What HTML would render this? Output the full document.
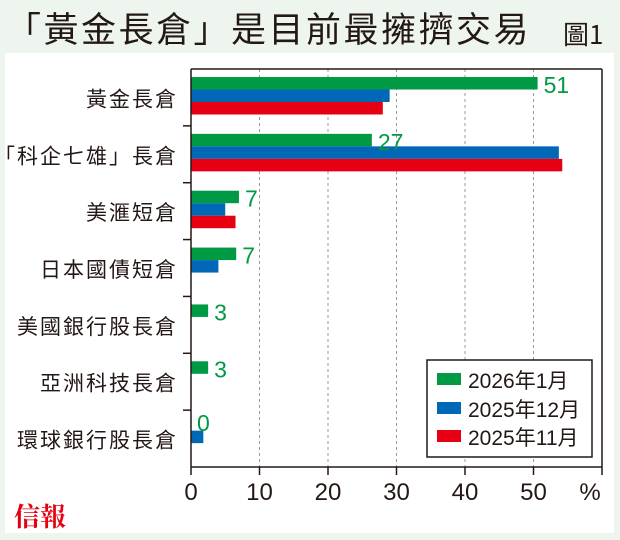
<!DOCTYPE html>
<html><head><meta charset="utf-8"><style>
body{margin:0;width:620px;height:540px;background:#eef5ee;overflow:hidden;font-family:"Liberation Sans","Noto Sans CJK TC",sans-serif;}
svg{display:block}
</style></head><body>
<svg width="620" height="540">
<rect x="0" y="0" width="620" height="540" fill="#eef5ee"/>
<text x="6" y="42" font-size="35" letter-spacing="2.5" fill="#231815" font-family="'Noto Sans CJK TC',sans-serif">「黃金長倉」是目前最擁擠交易</text>
<text x="563" y="44" font-size="26" fill="#231815" font-family="'Noto Sans CJK TC',sans-serif">圖1</text>
<rect x="5" y="53" width="609" height="480" fill="#fff"/>
<g id="grid"></g>
<g id="bars"></g>
<g id="axes"></g>
<g>
<rect x="427" y="360" width="165" height="97" fill="#fff" stroke="#231815" stroke-width="1.5"/>
<rect x="437" y="373" width="24" height="12" fill="#009944"/>
<text x="468" y="388" font-size="21" fill="#231815">2026年1月</text>
<rect x="437" y="402" width="24" height="12" fill="#0068b7"/>
<text x="468" y="417" font-size="21" fill="#231815">2025年12月</text>
<rect x="437" y="430" width="24" height="12" fill="#e60012"/>
<text x="468" y="445" font-size="21" fill="#231815">2025年11月</text>
</g>
<text x="14" y="526" font-size="26" font-weight="bold" fill="#e60012" font-family="'Noto Serif CJK SC',serif">信報</text>
</svg>
<script>
const categories=["黃金長倉","「科企七雄」長倉","美滙短倉","日本國債短倉","美國銀行股長倉","亞洲科技長倉","環球銀行股長倉"];
const jan26=[50.6,26.4,7,6.6,2.5,2.5,0];
const dec25=[29,53.7,5,4,null,null,1.8];
const nov25=[28,54.2,6.5,null,null,null,null];
const labels=["51","27","7","7","3","3","0"];
const ticks=[0,10,20,30,40,50];
const NS="http://www.w3.org/2000/svg";
const L=191,R=602,T=69,B=467,PX=6.85;
const xs=v=>L+v*PX;
const band=(B-T)/categories.length;
function mk(tag,attrs,parent,text){const e=document.createElementNS(NS,tag);for(const k in attrs)e.setAttribute(k,attrs[k]);if(text!=null)e.textContent=text;parent.appendChild(e);return e;}
const grid=document.getElementById('grid'),bars=document.getElementById('bars'),axes=document.getElementById('axes');
ticks.forEach(t=>{if(t>0){const g=mk('line',{x1:xs(t),x2:xs(t),y1:T,y2:B,stroke:'#999','stroke-width':1,'stroke-dasharray':'3,3'},grid);

}
const tl=mk('text',{x:xs(t),y:B+33,'font-size':24,'text-anchor':'middle',fill:'#231815'},axes,String(t));


mk('line',{x1:xs(t),x2:xs(t),y1:B,y2:B+8,stroke:'#231815','stroke-width':1.5},axes);});
const pct=mk('text',{x:590,y:B+33,'font-size':24,'text-anchor':'middle',fill:'#231815'},axes,'%');


const series=[[jan26,'#009944','jan26'],[dec25,'#0068b7','dec25'],[nov25,'#e60012','nov25']];
categories.forEach((c,i)=>{const y0=T+i*band;
const cl=mk('text',{x:178,y:y0+band/2+9,'font-size':21,'letter-spacing':2,'text-anchor':'end',fill:'#231815'},axes,c);


series.forEach((s,j)=>{const v=s[0][i];if(v==null||v===0)return;
const r=mk('rect',{x:L,y:y0+8+j*12.5,width:v*PX,height:12.5,fill:s[1]},bars);

});
const lx=jan26[i]>0?xs(jan26[i])+6:L+6;
const ly=jan26[i]>0?y0+24:y0+21;
const vl=mk('text',{x:lx,y:ly,'font-size':23,fill:'#009944'},bars,labels[i]);


if(i>0)mk('line',{x1:L-8,x2:L,y1:y0,y2:y0,stroke:'#231815','stroke-width':1.5},axes);});
mk('line',{x1:L,x2:L,y1:T,y2:B,stroke:'#231815','stroke-width':1.5},axes);
mk('line',{x1:L,x2:R,y1:B,y2:B,stroke:'#231815','stroke-width':1.5},axes);
mk('line',{x1:L,x2:R,y1:T,y2:T,stroke:'#231815','stroke-width':1.5},axes);
mk('line',{x1:R,x2:R,y1:T,y2:B+8,stroke:'#231815','stroke-width':1.5},axes);
</script>
</body></html>
